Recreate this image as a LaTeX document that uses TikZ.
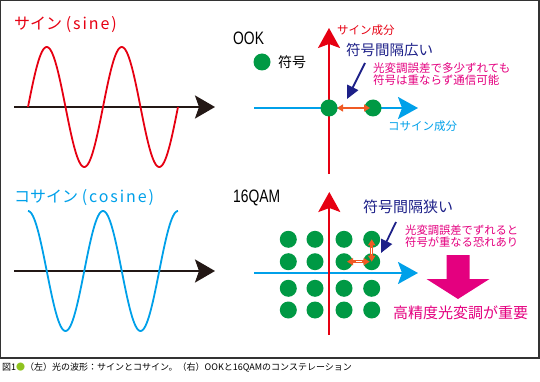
\documentclass[tikz,border=0pt]{standalone}
\usepackage{fontspec}
\setmainfont{Noto Sans CJK JP}
\newfontfamily\latinsans{Liberation Sans}
\newfontfamily\widelatin[LetterSpace=12]{Noto Sans CJK JP}
\usepackage{tikz}
\usetikzlibrary{arrows.meta,calc}
\definecolor{wred}{HTML}{E60012}
\definecolor{wblue}{HTML}{00A0E9}
\definecolor{wnavy}{HTML}{1D2088}
\definecolor{wpink}{HTML}{E4007F}
\definecolor{wgreen}{HTML}{009944}
\definecolor{worange}{HTML}{F05A24}
\definecolor{wblack}{HTML}{231815}
\definecolor{wframe}{HTML}{333333}
\definecolor{capgreen}{HTML}{8FC31F}
\tikzset{
  dot/.style={circle, fill=wgreen, minimum size=17pt, inner sep=0pt},
  baseaxis/.style={-{Stealth[length=20pt,width=23pt,inset=4pt]}, wblack, line width=2.4pt},
  caxis/.style={-{Stealth[length=20pt,width=22pt,inset=4pt]}, line width=2pt},
  wave/.style={line width=1.8pt},
  lbl/.style={anchor=west, inner sep=0pt},
  pointer/.style={-{Triangle[length=13pt,width=12pt]}, wnavy, line width=1.8pt},
  gap/.style={{Triangle[length=6pt,width=7pt]}-{Triangle[length=6pt,width=7pt]}, worange, line width=2pt},
}
\begin{document}
\begin{tikzpicture}[x=1pt,y=-1pt]
\useasboundingbox (0,0) rectangle (540,382);
\draw[wframe, line width=1.2pt] (0.6,0.6) rectangle (539,358);

% left: sine and cosine
\node[lbl, wred, font=\fontsize{16}{16}\selectfont] (tsine) at (14,25) {サイン {\widelatin(sine)}};
\coordinate (sa) at (14,107);
\coordinate (sb) at (215,107);
\draw[baseaxis] (sa) -- (sb);
\draw[wave, wred] plot[domain=0:720, samples=145, smooth] ({28+\x/4.8},{107-60*sin(\x)});

\node[lbl, wblue, font=\fontsize{16}{16}\selectfont] (tcos) at (14,198) {コサイン {\widelatin(cosine)}};
\coordinate (ca) at (14,271);
\coordinate (cb) at (215,271);
\draw[baseaxis] (ca) -- (cb);
\draw[wave, wblue] plot[domain=0:720, samples=145, smooth] ({28+\x/4.8},{271-60*cos(\x)});

% right top: OOK
\node[lbl, font=\fontsize{18}{18}\latinsans] (took) at (233,38) {\scalebox{0.77}[1]{OOK}};
\node[dot] (legend) at (262,62) {};
\node[lbl, font=\fontsize{14}{14}\selectfont] (tsym) at (278,62) {符号};
\coordinate (ox0) at (254,108);
\coordinate (ox1) at (418,108);
\coordinate (oy0) at (329,174);
\coordinate (oy1) at (329,28);
\draw[caxis, wblue] (ox0) -- (ox1);
\draw[caxis, wred] (oy0) -- (oy1);
\node[lbl, wred, font=\fontsize{11.5}{11.5}\selectfont] (tsinc) at (337,30) {サイン成分};
\node[lbl, wblue, font=\fontsize{11.5}{11.5}\selectfont] (tcosc) at (388,126) {コサイン成分};
\node[dot] (o1) at (329,108) {};
\node[dot] (o2) at (373,108) {};
\draw[gap] ([xshift=8pt]o1.center) -- ([xshift=-3pt]o2.center);
\node[lbl, wnavy, font=\fontsize{14.5}{14.5}\selectfont] (twide) at (346,50) {符号間隔広い};
\coordinate (pw) at (365,63);
\coordinate (pwt) at (347,99);
\draw[pointer] (pw) -- (pwt);
\node[lbl, wpink, align=left, font=\fontsize{11.5}{12}\selectfont] (nwide) at (373,74) {光変調誤差で多少ずれても\\符号は重ならず通信可能};

% right bottom: 16QAM
\node[lbl, font=\fontsize{18}{18}\latinsans] (tqam) at (233,198) {\scalebox{0.77}[1]{16QAM}};
\coordinate (qx0) at (254,273);
\coordinate (qx1) at (418,273);
\coordinate (qy0) at (329.3,335);
\coordinate (qy1) at (329.3,192);
\draw[caxis, wblue] (qx0) -- (qx1);
\draw[caxis, wred] (qy0) -- (qy1);
\foreach \c/\x in {1/288.3,2/315,3/344,4/371.7}
  \foreach \r/\y in {1/239.3,2/261.7,3/288.3,4/310}
    \node[dot] (q\c\r) at (\x,\y) {};
\draw[gap, line width=2.6pt] (q41.center) -- (q42.center);
\draw[gap, line width=2.6pt] ([xshift=3pt]q32.center) -- ([xshift=-2pt]q42.center);
\draw[white, line width=0.8pt] ([yshift=-3pt]$(q41)!0.5!(q42)$) -- ([yshift=3pt]$(q41)!0.5!(q42)$);
\draw[white, line width=0.8pt] ([xshift=-3pt]$(q32)!0.55!(q42)$) -- ([xshift=3pt]$(q32)!0.55!(q42)$);
\node[lbl, wnavy, font=\fontsize{15}{15}\selectfont] (tnarrow) at (363,207) {符号間隔狭い};
\coordinate (pn) at (396,222);
\coordinate (pnt) at (381,253);
\draw[pointer] (pn) -- (pnt);
\node[lbl, wpink, align=left, font=\fontsize{11.3}{11.7}\selectfont] (nnarrow) at (405,236) {光変調誤差でずれると\\符号が重なる恐れあり};
\fill[wpink] (446.5,255) -- (469.5,255) -- (469.5,279) -- (489.5,279) -- (458,299)
  -- (426.5,279) -- (446.5,279) -- cycle;
\node[lbl, wpink, font=\fontsize{15}{15}\selectfont] (tneed) at (393,313) {高精度光変調が重要};

% caption
\node[lbl, font=\fontsize{9}{9}\selectfont] (cap) at (2,367)
  {図1{\color{capgreen}●}（左）光の波形：サインとコサイン。（右）OOKと16QAMのコンステレーション};
\end{tikzpicture}
\end{document}
